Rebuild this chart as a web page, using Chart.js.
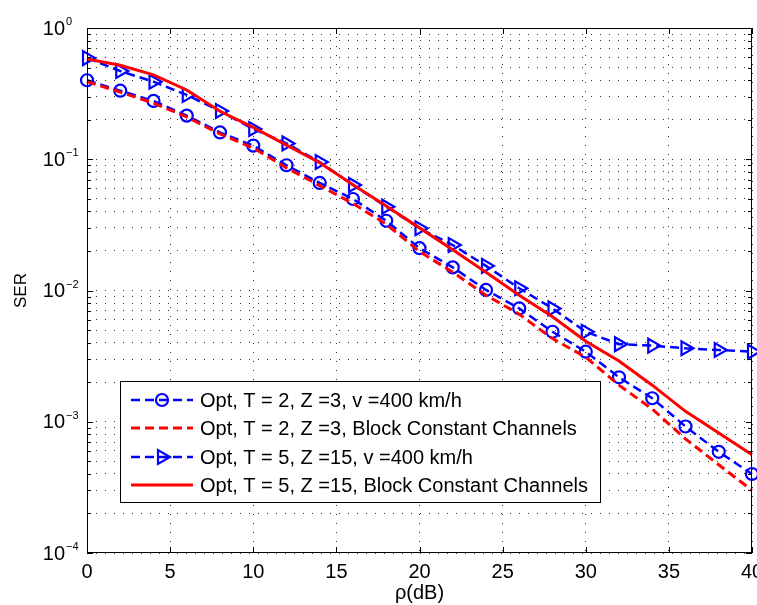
<!DOCTYPE html>
<html>
<head>
<meta charset="utf-8">
<title>SER vs rho</title>
<script src="https://cdn.jsdelivr.net/npm/chart.js@4.4.0/dist/chart.umd.min.js"></script>
<style>
  html, body { margin: 0; padding: 0; background: #fff; }
</style>
</head>
<body>
<canvas id="serChart" width="757" height="605"></canvas>
<script>
// rho in dB, one value every 2 dB
const rho = [0, 2, 4, 6, 8, 10, 12, 14, 16, 18, 20, 22, 24, 26, 28, 30, 32, 34, 36, 38, 40];

// Opt, T = 2, Z = 3, v = 400 km/h (blue dashed, circles)
const serT2Mobile = [0.40, 0.333, 0.278, 0.215, 0.160, 0.127, 0.090, 0.066, 0.0498, 0.034, 0.021,
                     0.015, 0.0101, 0.0073, 0.00485, 0.00342, 0.00218, 0.00151, 0.00092, 0.00059, 0.00040];
// Opt, T = 2, Z = 3, block constant (red dashed)
const serT2Block = [0.39, 0.325, 0.268, 0.21, 0.156, 0.122, 0.086, 0.063, 0.046, 0.032, 0.0198,
                    0.0138, 0.0092, 0.0066, 0.0043, 0.0031, 0.0019, 0.00125, 0.00074, 0.00047, 0.00030];
// Opt, T = 5, Z = 15, v = 400 km/h (blue dashed, triangles)
const serT5Mobile = [0.59, 0.47, 0.39, 0.309, 0.233, 0.170, 0.132, 0.0953, 0.0637, 0.0435, 0.0298,
                     0.0222, 0.0154, 0.0104, 0.0073, 0.00485, 0.0039, 0.0038, 0.00363, 0.00352, 0.00342];
// Opt, T = 5, Z = 15, block constant (red solid)
const serT5Block = [0.58, 0.52, 0.44, 0.337, 0.232, 0.175, 0.128, 0.094, 0.064, 0.044, 0.0300,
                    0.0204, 0.0138, 0.0092, 0.0063, 0.0041, 0.0029, 0.0019, 0.0012, 0.00082, 0.00056];

const legendLabels = [
  'Opt, T = 2, Z =3, v =400 km/h',
  'Opt, T = 2, Z =3, Block Constant Channels',
  'Opt, T = 5, Z =15, v =400 km/h',
  'Opt, T = 5, Z =15, Block Constant Channels'
];
const yDecades = [1, 1e-1, 1e-2, 1e-3, 1e-4];
const yDecadeExp = ['0', '\u22121', '\u22122', '\u22123', '\u22124'];

const BLUE = '#0000ff';
const RED = '#ff0000';
const FONT = '"Liberation Sans", Arial, Helvetica, sans-serif';

const pts = arr => rho.map((r, i) => ({ x: r, y: arr[i] }));

// frame, inward ticks, tick labels and the legend box (matlab look)
const matlabAxes = {
  id: 'matlabAxes',
  afterDraw(chart) {
    const { ctx, chartArea: a, scales: { x, y } } = chart;
    ctx.save();
    ctx.strokeStyle = '#000';
    ctx.lineWidth = 1;
    ctx.setLineDash([]);
    ctx.strokeRect(a.left + 0.5, a.top + 0.5, a.right - a.left - 1, a.bottom - a.top - 1);

    ctx.beginPath();
    x.ticks.forEach(t => {
      const px = Math.round(x.getPixelForValue(t.value)) + 0.5;
      ctx.moveTo(px, a.bottom); ctx.lineTo(px, a.bottom - 6);
      ctx.moveTo(px, a.top); ctx.lineTo(px, a.top + 6);
    });
    y.ticks.forEach(t => {
      const py = Math.round(y.getPixelForValue(t.value)) + 0.5;
      const len = t.major ? 6 : 4;
      ctx.moveTo(a.left, py); ctx.lineTo(a.left + len, py);
      ctx.moveTo(a.right, py); ctx.lineTo(a.right - len, py);
    });
    ctx.stroke();

    // x tick labels (last one runs off the canvas, as in the original)
    ctx.fillStyle = '#000';
    ctx.font = '20px ' + FONT;
    ctx.textAlign = 'center';
    ctx.textBaseline = 'middle';
    x.ticks.forEach(t => {
      ctx.fillText(String(t.value), x.getPixelForValue(t.value), a.bottom + 19);
    });

    // y labels 10^k
    yDecades.forEach((v, i) => {
      const py = y.getPixelForValue(v);
      ctx.font = '20px ' + FONT;
      ctx.textAlign = 'right';
      ctx.textBaseline = 'middle';
      ctx.fillText('10', 65, py + 1);
      ctx.font = '11px ' + FONT;
      ctx.textAlign = 'left';
      ctx.fillText(yDecadeExp[i], 66, py - 6);
    });

    // legend
    const box = { l: 120.5, t: 381.5, r: 600.5, b: 502.5 };
    ctx.fillStyle = '#fff';
    ctx.fillRect(box.l, box.t, box.r - box.l, box.b - box.t);
    ctx.strokeStyle = '#000';
    ctx.lineWidth = 1;
    ctx.strokeRect(box.l, box.t, box.r - box.l, box.b - box.t);

    const rows = [400, 428, 457, 485];
    chart.data.datasets.forEach((ds, i) => {
      const ry = rows[i];
      ctx.save();
      ctx.strokeStyle = ds.borderColor;
      ctx.lineWidth = ds.borderWidth;
      ctx.setLineDash(ds.borderDash || []);
      ctx.beginPath();
      ctx.moveTo(131, ry); ctx.lineTo(193, ry);
      ctx.stroke();
      ctx.restore();
      if (ds.pointRadius > 0) {
        ctx.save();
        ctx.strokeStyle = ds.borderColor;
        ctx.fillStyle = 'rgba(0,0,0,0)';
        ctx.lineWidth = ds.pointBorderWidth;
        ctx.setLineDash([]);
        Chart.helpers.drawPoint(ctx, {
          pointStyle: ds.pointStyle, rotation: ds.pointRotation || 0,
          radius: ds.pointRadius, borderWidth: ds.pointBorderWidth
        }, 162, ry);
        ctx.restore();
      }
      ctx.fillStyle = '#000';
      ctx.font = '20px ' + FONT;
      ctx.textAlign = 'left';
      ctx.textBaseline = 'middle';
      ctx.fillText(legendLabels[i], 200, ry + 1);
    });
    ctx.restore();
  }
};

new Chart(document.getElementById('serChart'), {
  type: 'line',
  data: {
    datasets: [
      {
        label: legendLabels[0], data: pts(serT2Mobile), order: 4,
        borderColor: BLUE, borderWidth: 2.5, borderDash: [9, 5],
        pointStyle: 'circle', pointRadius: 6, pointBorderWidth: 2.2,
        pointBorderColor: BLUE, pointBackgroundColor: 'rgba(0,0,0,0)'
      },
      {
        label: legendLabels[1], data: pts(serT2Block), order: 3,
        borderColor: RED, borderWidth: 3, borderDash: [9, 5], pointRadius: 0
      },
      {
        label: legendLabels[2], data: pts(serT5Mobile), order: 2,
        borderColor: BLUE, borderWidth: 2.5, borderDash: [9, 5],
        pointStyle: 'triangle', pointRotation: 90, pointRadius: 8, pointBorderWidth: 2.2,
        pointBorderColor: BLUE, pointBackgroundColor: 'rgba(0,0,0,0)'
      },
      {
        label: legendLabels[3], data: pts(serT5Block), order: 1,
        borderColor: RED, borderWidth: 3, pointRadius: 0
      }
    ]
  },
  options: {
    responsive: false,
    animation: false,
    clip: false,
    layout: { autoPadding: false, padding: { top: 28, right: 5, bottom: 0, left: 0 } },
    elements: { line: { tension: 0, fill: false } },
    plugins: { legend: { display: false }, tooltip: { enabled: false } },
    scales: {
      x: {
        type: 'linear', min: 0, max: 40,
        ticks: { stepSize: 5, display: false },
        grid: { color: '#333', lineWidth: 1, drawTicks: false },
        border: { display: false, dash: [1, 8] },
        title: { display: true, text: 'ρ(dB)', color: '#000', font: { size: 20, family: FONT }, padding: { top: 0, bottom: 0 } },
        afterFit: s => { s.height = 52; }
      },
      y: {
        type: 'logarithmic', min: 1e-4, max: 1,
        ticks: { display: false },
        grid: { color: '#333', lineWidth: 1, drawTicks: false },
        border: { display: false, dash: [1, 8] },
        title: { display: true, text: 'SER', color: '#000', font: { size: 17, family: FONT }, padding: { top: 11, bottom: 0 } },
        afterBuildTicks: s => {
          const t = [];
          for (let e = -4; e <= 0; e++) {
            for (let m = 1; m <= 9; m++) {
              const v = m * Math.pow(10, e);
              if (v <= 1.0000001) t.push({ value: v, major: m === 1 });
            }
          }
          s.ticks = t;
        },
        afterFit: s => { s.width = 87; }
      }
    }
  },
  plugins: [matlabAxes]
});
</script>
</body>
</html>
